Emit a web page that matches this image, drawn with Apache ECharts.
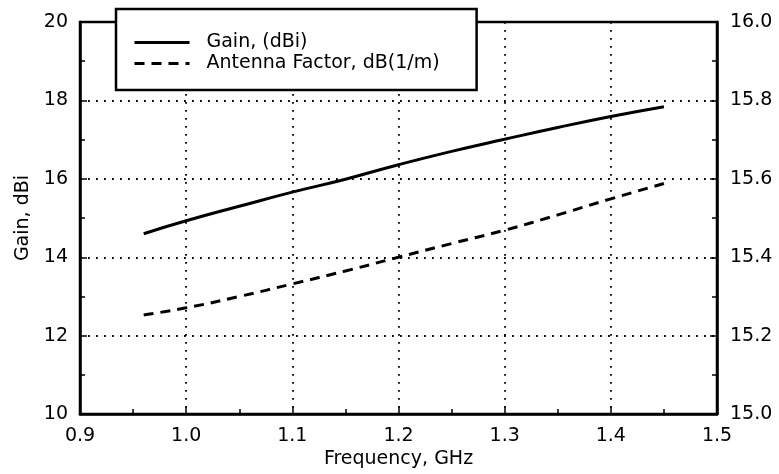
<!DOCTYPE html>
<html>
<head>
<meta charset="utf-8">
<script src="https://cdn.jsdelivr.net/npm/echarts@6/dist/echarts.min.js"></script>
<style>
html,body{margin:0;padding:0;background:#fff;}
#chart{width:779px;height:474px;}
</style>
</head>
<body>
<div id="chart"></div>
<script>
var frequency = [0.96, 1.00, 1.05, 1.10, 1.15, 1.20, 1.25, 1.30, 1.35, 1.40, 1.45];
var gain = [14.60, 14.93, 15.30, 15.66, 15.99, 16.36, 16.70, 17.01, 17.31, 17.59, 17.84];
var antennaFactor = [15.253, 15.271, 15.300, 15.332, 15.365, 15.400, 15.435, 15.469, 15.508, 15.549, 15.588];
var xTicks = ['0.9','1.0','1.1','1.2','1.3','1.4','1.5'];
var leftTicks = ['10','12','14','16','18','20'];
var rightTicks = ['15.0','15.2','15.4','15.6','15.8','16.0'];

var FONT = 'DejaVu Sans';
function pairs(xs, ys){ return xs.map(function(x,i){ return [x, ys[i]]; }); }

var chart = echarts.init(document.getElementById('chart'), null, {renderer:'canvas'});
var axisCommon = {
  axisLine:{show:true, lineStyle:{color:'#000', width:2.5}},
  axisTick:{show:true, inside:true, length:7, lineStyle:{color:'#000', width:1.5}},
  minorTick:{show:true, splitNumber:2, length:5, lineStyle:{color:'#000', width:1.5}},
  splitLine:{show:true, lineStyle:{color:'#000', width:1.8, type:[1.8,6.2]}},
  axisLabel:{color:'#000', fontFamily:FONT, fontSize:19}
};
chart.setOption({
  backgroundColor:'#fff',
  animation:false,
  grid:{left:80, right:62, top:22, bottom:57, show:true, borderColor:'#000', borderWidth:2.5, backgroundColor:'transparent'},
  legend:{
    left:116, top:9, orient:'vertical',
    backgroundColor:'#fff', borderColor:'#000', borderWidth:2.5, borderRadius:0,
    padding:[23,37,16,17], itemGap:0, itemWidth:55, itemHeight:14,
    itemStyle:{opacity:0},
    lineStyle:{width:3},
    textStyle:{color:'#000', fontFamily:FONT, fontSize:19, lineHeight:21, padding:[0,0,0,12]},
    data:['Gain, (dBi)','Antenna Factor, dB(1/m)']
  },
  xAxis:Object.assign({}, axisCommon, {
    type:'value', min:0.9, max:1.5, interval:0.1,
    name:'Frequency, GHz', nameLocation:'middle', nameGap:22,
    nameTextStyle:{color:'#000', fontFamily:FONT, fontSize:19},
    axisLabel:Object.assign({}, axisCommon.axisLabel, {margin:12, formatter:function(v){ var i=Math.round((v-0.9)/0.1); return xTicks[i]; }})
  }),
  yAxis:[
    Object.assign({}, axisCommon, {
      type:'value', min:10, max:20, interval:2, position:'left',
      name:'Gain, dBi', nameLocation:'middle', nameGap:32,
      nameTextStyle:{color:'#000', fontFamily:FONT, fontSize:19},
      axisLabel:Object.assign({}, axisCommon.axisLabel, {margin:12, formatter:function(v){ return leftTicks[Math.round((v-10)/2)]; }})
    }),
    Object.assign({}, axisCommon, {
      type:'value', min:15.0, max:16.0, interval:0.2, position:'right',
      splitLine:{show:false},
      axisLabel:Object.assign({}, axisCommon.axisLabel, {margin:13, formatter:function(v){ return rightTicks[Math.round((v-15)/0.2)]; }})
    })
  ],
  series:[
    {name:'Gain, (dBi)', type:'line', yAxisIndex:0, data:pairs(frequency, gain), smooth:true, symbol:'none', showSymbol:false,
     lineStyle:{color:'#000', width:3, type:'solid'}, itemStyle:{color:'#000'}},
    {name:'Antenna Factor, dB(1/m)', type:'line', yAxisIndex:1, data:pairs(frequency, antennaFactor), smooth:true, symbol:'none', showSymbol:false,
     lineStyle:{color:'#000', width:3, type:[10,7]}, itemStyle:{color:'#000'}}
  ]
});
</script>
</body>
</html>
